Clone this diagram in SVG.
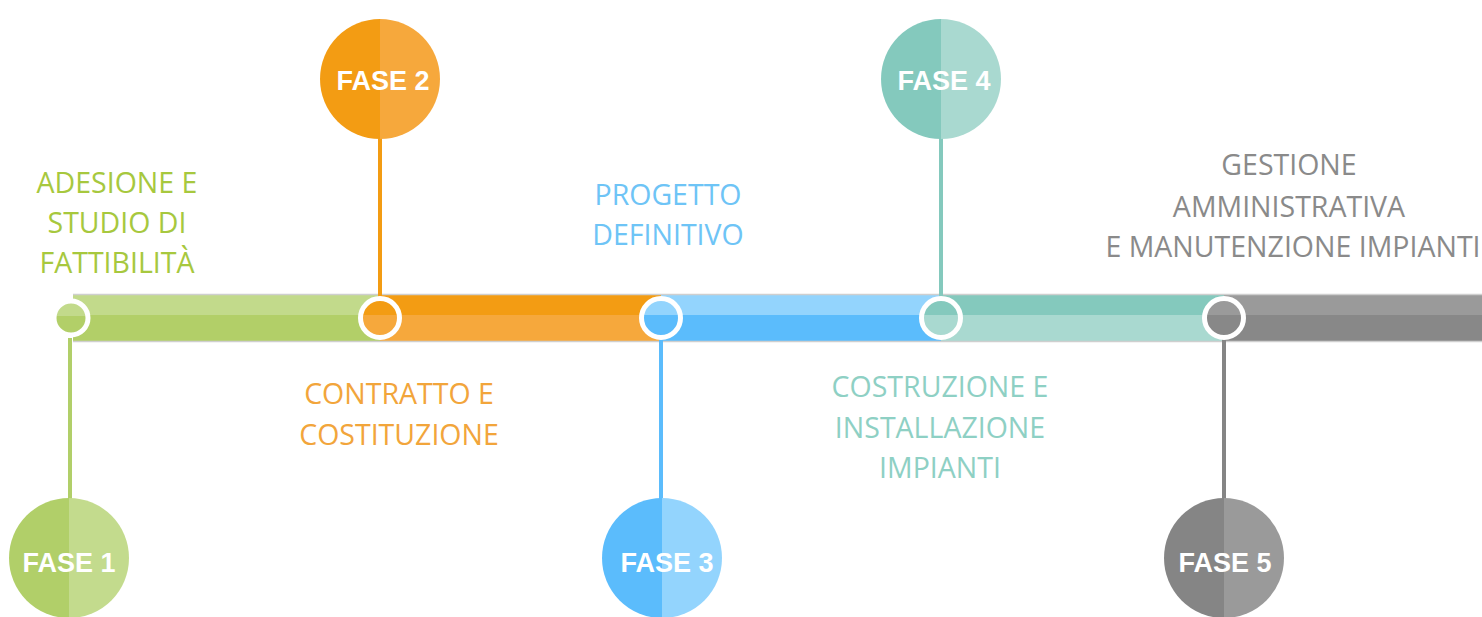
<svg xmlns="http://www.w3.org/2000/svg" width="1482" height="617" viewBox="0 0 1482 617">
<defs>
<linearGradient id="g1h" x1="0" x2="1" y1="0" y2="0"><stop offset="0.5" stop-color="#b1cf69"/><stop offset="0.5" stop-color="#c3db8d"/></linearGradient>
<linearGradient id="g2h" x1="0" x2="1" y1="0" y2="0"><stop offset="0.5" stop-color="#f39c13"/><stop offset="0.5" stop-color="#f6a83c"/></linearGradient>
<linearGradient id="g3h" x1="0" x2="1" y1="0" y2="0"><stop offset="0.5" stop-color="#5bbcfc"/><stop offset="0.5" stop-color="#93d4fd"/></linearGradient>
<linearGradient id="g4h" x1="0" x2="1" y1="0" y2="0"><stop offset="0.5" stop-color="#84c9bd"/><stop offset="0.5" stop-color="#a9d9d0"/></linearGradient>
<linearGradient id="g5h" x1="0" x2="1" y1="0" y2="0"><stop offset="0.5" stop-color="#858585"/><stop offset="0.5" stop-color="#9a9a9a"/></linearGradient>
<linearGradient id="g1v" x1="0" x2="0" y1="0" y2="1"><stop offset="0.43" stop-color="#c2da8b"/><stop offset="0.43" stop-color="#b2cf68"/></linearGradient>
<linearGradient id="g2v" x1="0" x2="0" y1="0" y2="1"><stop offset="0.43" stop-color="#f39c13"/><stop offset="0.43" stop-color="#f6a83c"/></linearGradient>
<linearGradient id="g3v" x1="0" x2="0" y1="0" y2="1"><stop offset="0.43" stop-color="#93d4fd"/><stop offset="0.43" stop-color="#5bbcfc"/></linearGradient>
<linearGradient id="g4v" x1="0" x2="0" y1="0" y2="1"><stop offset="0.43" stop-color="#84c9bd"/><stop offset="0.43" stop-color="#a9d9d0"/></linearGradient>
<linearGradient id="g5v" x1="0" x2="0" y1="0" y2="1"><stop offset="0.43" stop-color="#9a9a9a"/><stop offset="0.43" stop-color="#888888"/></linearGradient>
</defs>
<style>
.lbl{font-family:"Open Sans","Liberation Sans",sans-serif;font-size:28.5px;font-weight:400;text-anchor:middle}
.fase{font-family:"Liberation Sans",Arial,sans-serif;font-size:27px;font-weight:700;fill:#fff;text-anchor:middle}
.ring{stroke:#fff;stroke-width:5}
.edge{stroke:#cfcfcf;stroke-width:1.5}
</style>
<g id="bar">
<rect x="73" y="295" width="307" height="20" fill="#c2da8b"/>
<rect x="73" y="315" width="307" height="26" fill="#b2cf68"/>
<rect x="380" y="295" width="281" height="20" fill="#f39c13"/>
<rect x="380" y="315" width="281" height="26" fill="#f6a83c"/>
<rect x="661" y="295" width="280" height="20" fill="#93d4fd"/>
<rect x="661" y="315" width="280" height="26" fill="#5bbcfc"/>
<rect x="941" y="295" width="283" height="20" fill="#84c9bd"/>
<rect x="941" y="315" width="283" height="26" fill="#a9d9d0"/>
<rect x="1224" y="295" width="258" height="20" fill="#9a9a9a"/>
<rect x="1224" y="315" width="258" height="26" fill="#888888"/>
<line class="edge" x1="73" y1="294.5" x2="1482" y2="294.5"/>
<line class="edge" x1="73" y1="341.5" x2="1482" y2="341.5"/>
</g>
<g id="connectors" stroke-width="4">
<line x1="70" y1="338" x2="70" y2="500" stroke="#b1cf69"/>
<line x1="380" y1="136" x2="380" y2="298" stroke="#f39c13"/>
<line x1="661" y1="338" x2="661" y2="500" stroke="#5bbcfc"/>
<line x1="941" y1="136" x2="941" y2="298" stroke="#84c9bd"/>
<line x1="1224" y1="338" x2="1224" y2="500" stroke="#858585"/>
</g>
<g id="node1">
<circle class="ring" cx="71" cy="318" r="17" fill="url(#g1v)"/>
<circle cx="69" cy="558" r="60" fill="url(#g1h)"/>
<text class="fase" x="69" y="572">FASE 1</text>
<text class="lbl" fill="#a7c83e" x="117" y="193">ADESIONE E</text>
<text class="lbl" fill="#a7c83e" x="117" y="233">STUDIO DI</text>
<text class="lbl" fill="#a7c83e" x="117" y="273">FATTIBILITÀ</text>
</g>
<g id="node2">
<circle class="ring" cx="380" cy="318" r="19.5" fill="url(#g2v)"/>
<circle cx="380" cy="79" r="60" fill="url(#g2h)"/>
<text class="fase" x="383" y="90">FASE 2</text>
<text class="lbl" fill="#f2a53b" x="399" y="404">CONTRATTO E</text>
<text class="lbl" fill="#f2a53b" x="399" y="445">COSTITUZIONE</text>
</g>
<g id="node3">
<circle class="ring" cx="661" cy="318" r="19.5" fill="url(#g3v)"/>
<circle cx="662" cy="558" r="60" fill="url(#g3h)"/>
<text class="fase" x="667" y="572">FASE 3</text>
<text class="lbl" fill="#6ec4f6" x="668" y="205">PROGETTO</text>
<text class="lbl" fill="#6ec4f6" x="668" y="245">DEFINITIVO</text>
</g>
<g id="node4">
<circle class="ring" cx="941" cy="318" r="19.5" fill="url(#g4v)"/>
<circle cx="941" cy="79" r="60" fill="url(#g4h)"/>
<text class="fase" x="944" y="90">FASE 4</text>
<text class="lbl" fill="#8ed0c4" x="940" y="397">COSTRUZIONE E</text>
<text class="lbl" fill="#8ed0c4" x="940" y="438">INSTALLAZIONE</text>
<text class="lbl" fill="#8ed0c4" x="940" y="478">IMPIANTI</text>
</g>
<g id="node5">
<circle class="ring" cx="1224" cy="318" r="19.5" fill="url(#g5v)"/>
<circle cx="1224" cy="558" r="60" fill="url(#g5h)"/>
<text class="fase" x="1225" y="572">FASE 5</text>
<text class="lbl" fill="#8a8a8a" x="1289" y="175">GESTIONE</text>
<text class="lbl" fill="#8a8a8a" x="1289" y="217">AMMINISTRATIVA</text>
<text class="lbl" fill="#8a8a8a" x="1293" y="257">E MANUTENZIONE IMPIANTI</text>
</g>
</svg>
